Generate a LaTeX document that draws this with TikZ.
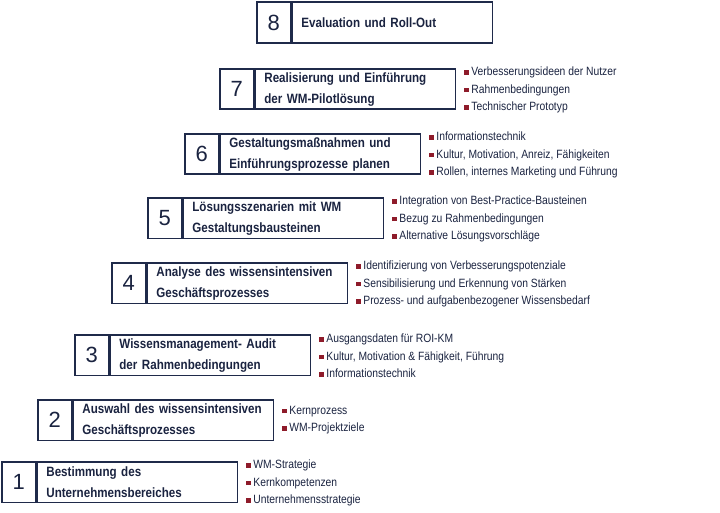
\documentclass[tikz,border=0pt]{standalone}
\usepackage{fontspec}
\setmainfont{Liberation Sans}
\newfontfamily\narrowfont[FakeStretch=0.86]{Liberation Sans}
\usetikzlibrary{positioning}
\definecolor{navy}{HTML}{1F2A4A}
\definecolor{ink}{HTML}{1A2340}
\definecolor{bullet}{HTML}{8E1B2A}
\newcommand\sq{\textcolor{bullet}{\rule[1pt]{4.5pt}{4.5pt}}\hspace{2.5pt}}

\tikzset{
  numbox/.style={draw=navy,line width=1.6pt,minimum width=34pt,minimum height=40.5pt,
    inner sep=0pt,anchor=north west,text=ink,font=\fontsize{22}{22}\selectfont},
  titlebox/.style={draw=navy,line width=1.6pt,minimum width=200pt,minimum height=40.5pt,
    inner xsep=9pt,inner ysep=0pt,text width=182pt,align=left,anchor=north west,text=ink,
    font=\narrowfont\bfseries\fontsize{13.5}{21}\selectfont},
  points/.style={anchor=west,inner sep=0pt,align=left,xshift=8pt,yshift=-1pt,text=ink,
    font=\narrowfont\fontsize{12}{17.5}\selectfont}
}

\begin{document}
\begin{tikzpicture}[x=1pt,y=-1pt]
    \useasboundingbox (0,0) rectangle (720,513);
    % step 1
    \node[numbox] (n1) at (1,461) {1};
    \node[titlebox] (t1) at (n1.north east) {Bestimmung des\\Unternehmensbereiches};
    \node[points] (p1) at (t1.east) {\sq WM-Strategie\\\sq Kernkompetenzen\\\sq Unternehmensstrategie};
    % step 2
    \node[numbox] (n2) at (37,399) {2};
    \node[titlebox] (t2) at (n2.north east) {Auswahl des wissensintensiven\\Geschäftsprozesses};
    \node[points,yshift=1pt] (p2) at (t2.east) {\sq Kernprozess\\\sq WM-Projektziele};
    % step 3
    \node[numbox] (n3) at (74,334) {3};
    \node[titlebox] (t3) at (n3.north east) {Wissensmanagement- Audit\\der Rahmenbedingungen};
    \node[points] (p3) at (t3.east) {\sq Ausgangsdaten für ROI-KM\\\sq Kultur, Motivation \& Fähigkeit, Führung\\\sq Informationstechnik};
    % step 4
    \node[numbox] (n4) at (111,262) {4};
    \node[titlebox] (t4) at (n4.north east) {Analyse des wissensintensiven\\Geschäftsprozesses};
    \node[points] (p4) at (t4.east) {\sq Identifizierung von Verbesserungspotenziale\\\sq Sensibilisierung und Erkennung von Stärken\\\sq Prozess- und aufgabenbezogener Wissensbedarf};
    % step 5
    \node[numbox] (n5) at (147,197) {5};
    \node[titlebox] (t5) at (n5.north east) {Lösungsszenarien mit WM\\Gestaltungsbausteinen};
    \node[points] (p5) at (t5.east) {\sq Integration von Best-Practice-Bausteinen\\\sq Bezug zu Rahmenbedingungen\\\sq Alternative Lösungsvorschläge};
    % step 6
    \node[numbox] (n6) at (184,133) {6};
    \node[titlebox] (t6) at (n6.north east) {Gestaltungsmaßnahmen und\\Einführungsprozesse planen};
    \node[points] (p6) at (t6.east) {\sq Informationstechnik\\\sq Kultur, Motivation, Anreiz, Fähigkeiten\\\sq Rollen, internes Marketing und Führung};
    % step 7
    \node[numbox] (n7) at (219,68) {7};
    \node[titlebox] (t7) at (n7.north east) {Realisierung und Einführung\\der WM-Pilotlösung};
    \node[points] (p7) at (t7.east) {\sq Verbesserungsideen der Nutzer\\\sq Rahmenbedingungen\\\sq Technischer Prototyp};
    % step 8
    \node[numbox] (n8) at (256,1.5) {8};
    \node[titlebox] (t8) at (n8.north east) {Evaluation und Roll-Out};
\end{tikzpicture}
\end{document}
